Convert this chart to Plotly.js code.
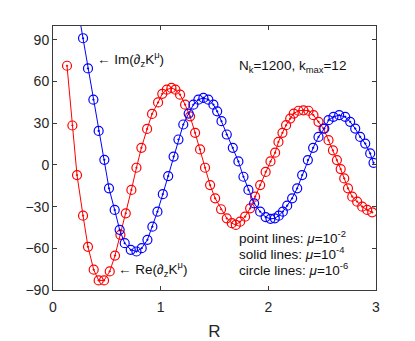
<!DOCTYPE html>
<html>
<head>
<meta charset="utf-8">
<script src="https://cdn.plot.ly/plotly-3.0.1.min.js"></script>
<style>html,body{margin:0;padding:0;background:#fff;}#chart{width:415px;height:341px;}</style>
</head>
<body>
<div id="chart"></div>
<script>
// Re(∂z K^μ) — red
const reR = [0.13, 0.18, 0.223, 0.279, 0.325, 0.378, 0.424, 0.474, 0.527, 0.576, 0.626, 0.676, 0.728, 0.775, 0.821, 0.874, 0.920, 0.976, 1.015, 1.057, 1.100, 1.137, 1.180, 1.227, 1.273, 1.320, 1.366, 1.412, 1.459, 1.506, 1.561, 1.614, 1.661, 1.698, 1.738, 1.784, 1.831, 1.877, 1.924, 1.975, 2.020, 2.063, 2.094, 2.131, 2.165, 2.203, 2.236, 2.280, 2.326, 2.373, 2.419, 2.466, 2.512, 2.559, 2.600, 2.637, 2.672, 2.705, 2.740, 2.779, 2.825, 2.872, 2.918, 2.965];
const reV = [71.4, 28.4, -7.3, -36.5, -58.9, -75.4, -83.1, -83.1, -76.6, -65.2, -50.3, -34.8, -18.0, -2.0, 12.3, 25.9, 36.7, 45.0, 51.2, 54.2, 55.4, 54.2, 50.6, 43.4, 35.0, 23.1, 11.2, -2.0, -14.5, -24.0, -31.9, -38.4, -41.9, -43.2, -40.8, -37.2, -31.2, -22.8, -14.5, -5.0, 2.5, 8.8, 16.6, 23.1, 28.6, 33.4, 37.0, 39.0, 39.3, 39.0, 35.8, 31.0, 26.2, 17.8, 10.5, 3.5, -3.0, -9.7, -16.8, -22.8, -26.4, -30.0, -32.4, -34.1];
// Im(∂z K^μ) — blue
const imR = [0.230, 0.279, 0.325, 0.375, 0.424, 0.477, 0.520, 0.573, 0.619, 0.666, 0.722, 0.775, 0.824, 0.877, 0.923, 0.970, 1.020, 1.070, 1.120, 1.165, 1.210, 1.260, 1.304, 1.350, 1.397, 1.443, 1.490, 1.525, 1.565, 1.614, 1.670, 1.722, 1.769, 1.815, 1.868, 1.924, 1.975, 2.020, 2.060, 2.097, 2.135, 2.175, 2.221, 2.268, 2.314, 2.367, 2.416, 2.466, 2.520, 2.559, 2.605, 2.658, 2.714, 2.760, 2.807, 2.853, 2.900, 2.946, 2.977];
const imV = [113, 91.2, 69.5, 47.0, 24.5, 3.7, -16.8, -32.4, -46.7, -56.3, -61.1, -62.3, -59.9, -53.9, -44.4, -33.6, -21.0, -8.0, 6.0, 18.3, 29.1, 37.0, 43.4, 47.0, 48.2, 47.0, 43.4, 38.6, 31.5, 21.9, 12.3, 2.5, -8.5, -18.0, -27.6, -33.6, -37.5, -38.8, -38.4, -36.5, -33.6, -29.3, -24.0, -16.8, -7.3, 3.5, 12.3, 20.2, 26.2, 32.2, 34.6, 35.8, 34.6, 31.0, 26.2, 20.2, 15.4, 8.3, 1.5];
const yTicks = [-90, -60, -30, 0, 30, 60, 90];
const xTicks = [0, 1, 2, 3];

function series(x, y, color) {
  return {
    x: x, y: y, type: 'scatter', mode: 'lines+markers',
    line: {color: color, width: 1},
    marker: {symbol: 'circle-open-dot', size: 9, color: color, line: {color: color, width: 1.2}},
    showlegend: false, hoverinfo: 'skip'
  };
}

const font = "'Liberation Sans', Arial, Helvetica, sans-serif";
const axisCommon = {
  showline: true, linecolor: '#3a3a3a', linewidth: 1, mirror: 'ticks',
  ticks: 'inside', ticklen: 4, tickcolor: '#3a3a3a', showgrid: false, zeroline: false,
  tickfont: {family: font, size: 14, color: '#262626'}
};

const ann = (x, y, text) => ({x: x, y: y, xref: 'x', yref: 'y', text: text, showarrow: false,
  xanchor: 'left', yanchor: 'middle', font: {family: font, size: 13.5, color: '#111'}});

const layout = {
  width: 415, height: 341,
  margin: {l: 53, r: 39, t: 26, b: 51},
  paper_bgcolor: '#fff', plot_bgcolor: '#fff',
  xaxis: Object.assign({}, axisCommon, {range: [0, 3], tickvals: xTicks, ticklabelstandoff: 4,
    title: {text: 'R', font: {family: font, size: 17, color: '#262626'}, standoff: 12}}),
  yaxis: Object.assign({}, axisCommon, {range: [-90, 100], tickvals: yTicks, ticksuffix: ' '}),
  annotations: [
    ann(0.39, 75.9, '\u2190 Im(\u2202<sub>z</sub>K<sup>\u03bc</sup>)'),
    ann(0.585, -74.7, '\u2190 Re(\u2202<sub>z</sub>K<sup>\u03bc</sup>)'),
    ann(1.71, 70.9, 'N<sub>k</sub>=1200, k<sub>max</sub>=12'),
    ann(1.71, -51.8, 'point lines: <i>\u03bc</i>=10<sup>-2</sup>'),
    ann(1.71, -63.3, 'solid lines: <i>\u03bc</i>=10<sup>-4</sup>'),
    ann(1.71, -74.7, 'circle lines: <i>\u03bc</i>=10<sup>-6</sup>')
  ]
};

Plotly.newPlot('chart', [series(reR, reV, '#ff0000'), series(imR, imV, '#0000ff')], layout, {staticPlot: true, displayModeBar: false});
</script>
</body>
</html>
